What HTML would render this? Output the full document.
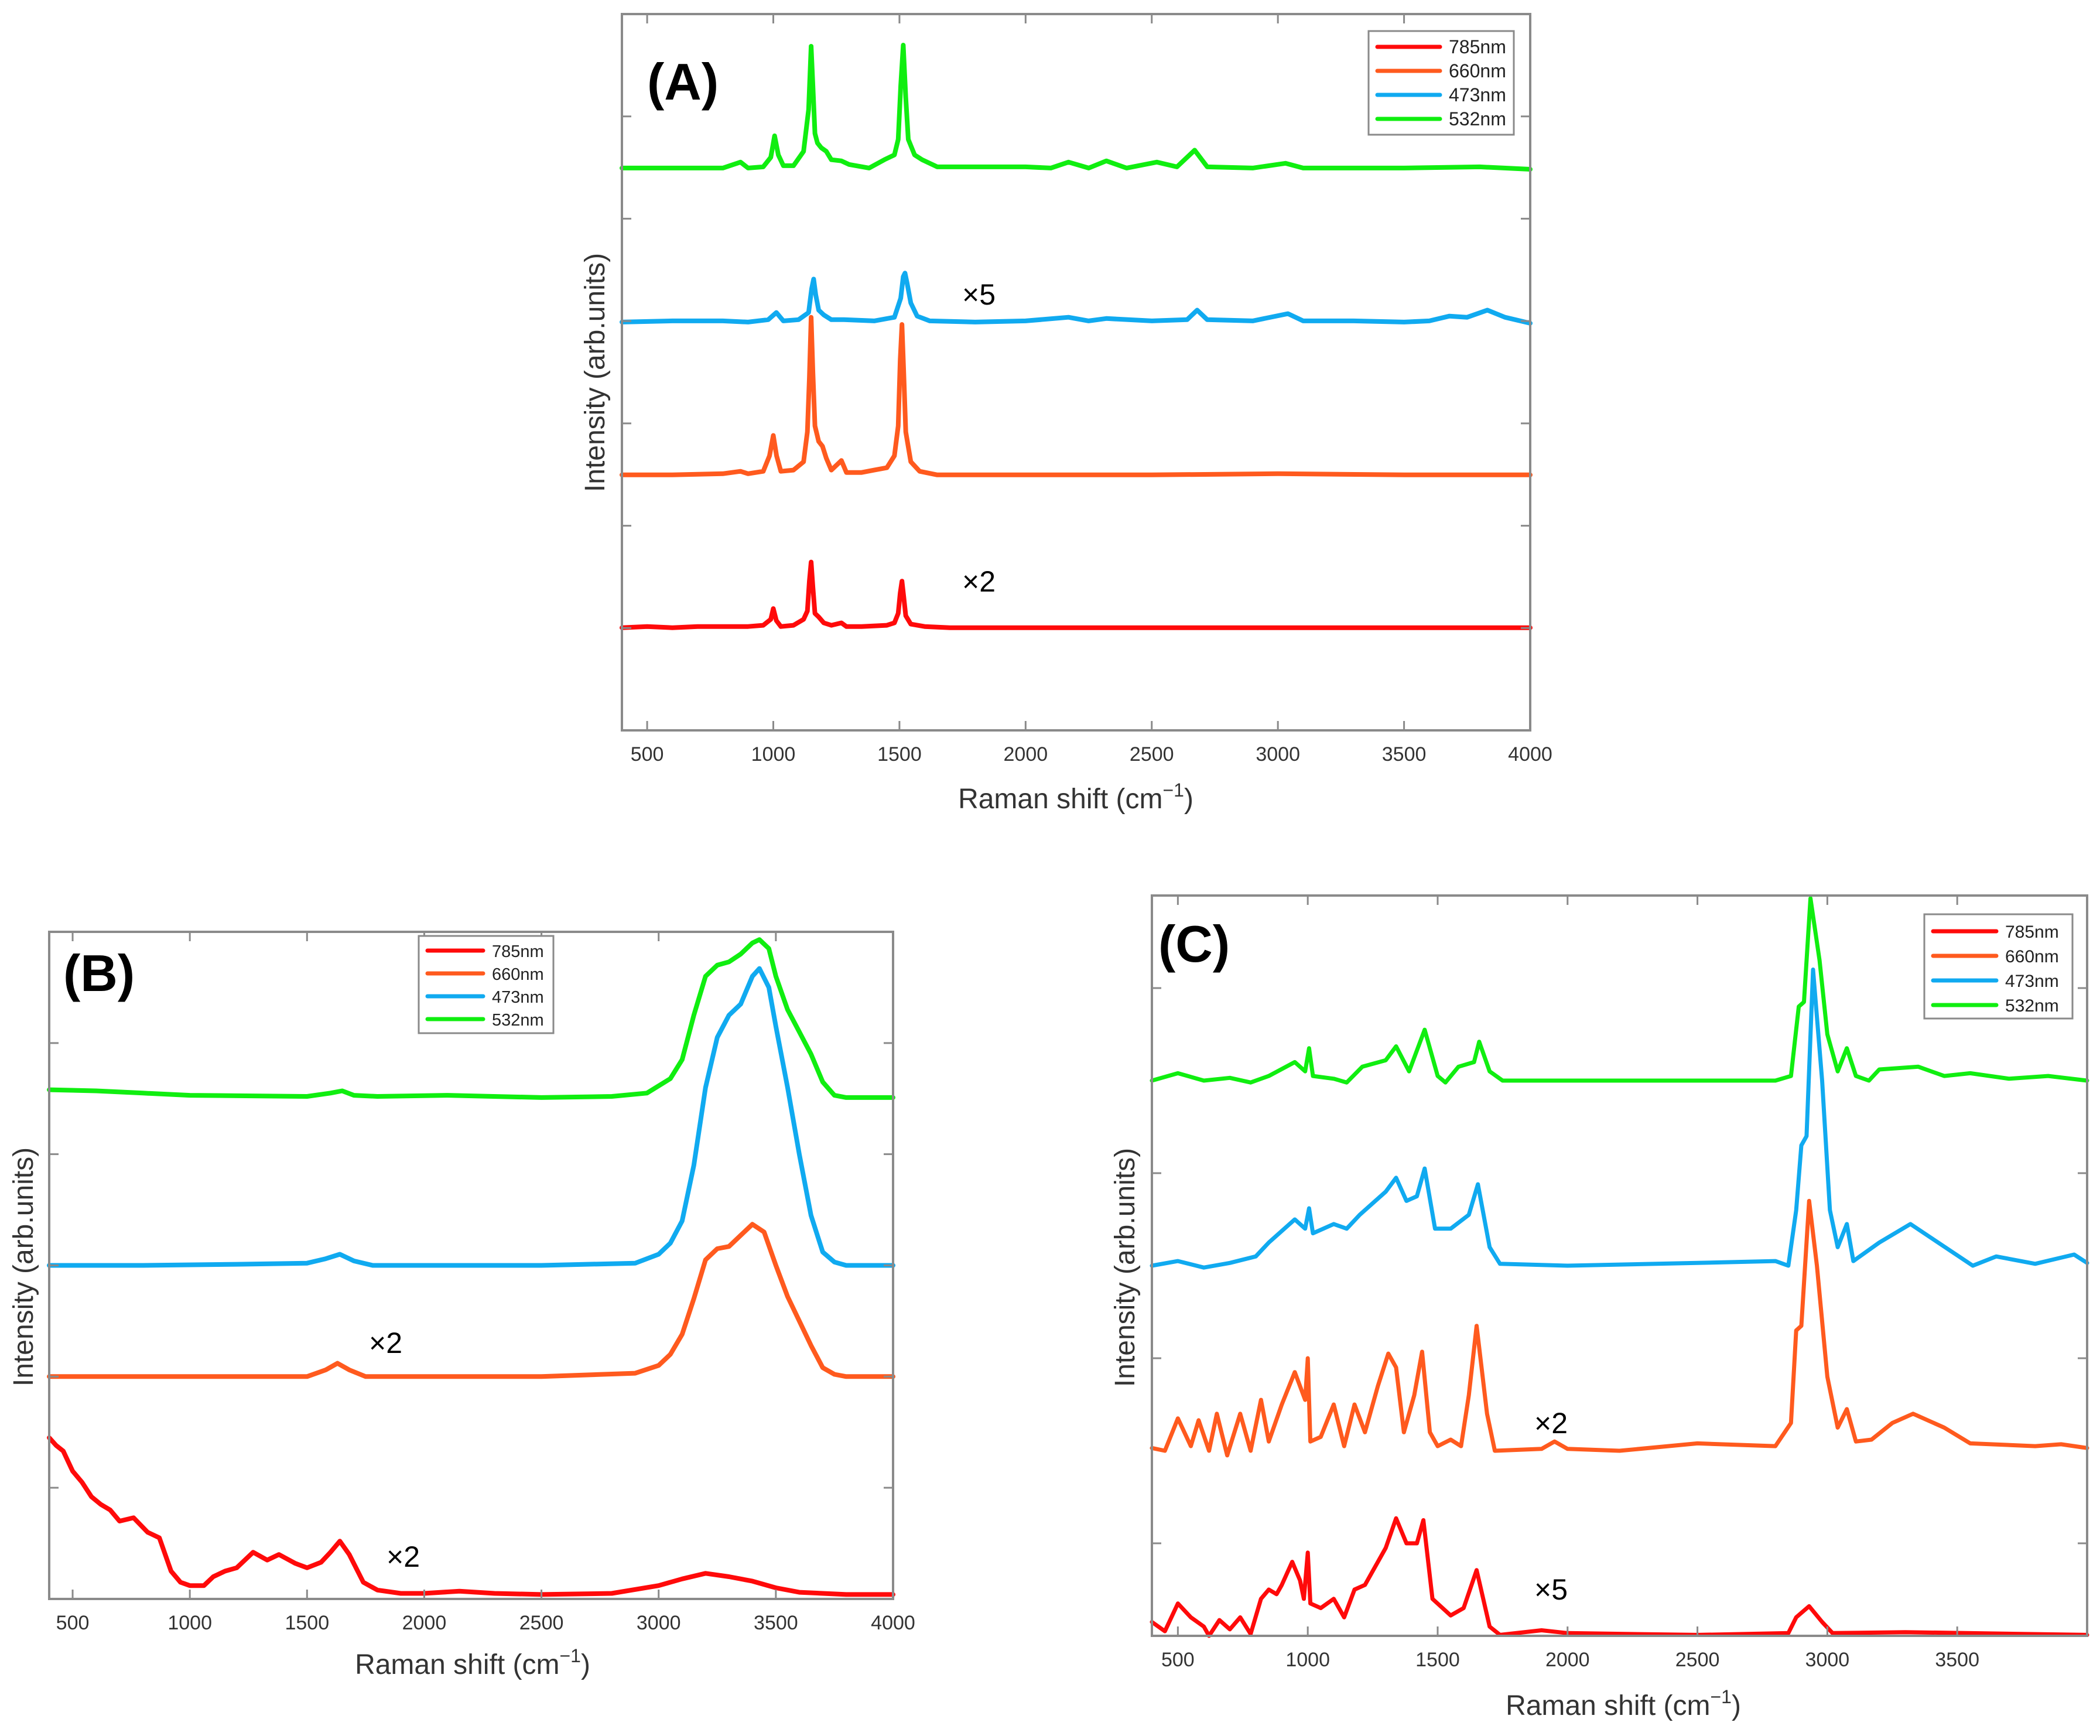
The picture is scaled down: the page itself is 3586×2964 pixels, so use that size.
<!DOCTYPE html>
<html><head><meta charset="utf-8"><style>
html,body{margin:0;padding:0;background:#fff;}
svg{display:block;font-family:"Liberation Sans",Arial,sans-serif;}
</style></head><body>
<svg id="fig" xmlns="http://www.w3.org/2000/svg" width="3586" height="2964" viewBox="0 0 3586 2964">
<rect x="0" y="0" width="3586" height="2964" fill="#fff"/>
</svg>
<script>
// ===== Panel A data =====
const aRedX = [400,500,600,700,800,900,960,990,1000,1012,1030,1080,1120,1135,1143,1150,1157,1165,1180,1200,1230,1270,1290,1350,1450,1480,1495,1503,1510,1517,1525,1545,1600,1700,2000,2500,3000,3500,4000];
const aRedY = [0.86,0.87,0.86,0.87,0.87,0.87,0.88,0.93,1.02,0.92,0.87,0.88,0.93,1.0,1.25,1.41,1.2,0.98,0.95,0.9,0.88,0.9,0.87,0.87,0.88,0.9,0.98,1.15,1.25,1.12,0.96,0.89,0.87,0.86,0.86,0.86,0.86,0.86,0.86];
const aOrgX = [400,600,800,870,900,960,985,1000,1013,1030,1080,1120,1135,1143,1150,1157,1165,1180,1195,1210,1230,1270,1290,1350,1400,1450,1480,1495,1503,1510,1517,1525,1545,1580,1650,2000,2500,3000,3500,4000];
const aOrgY = [2.14,2.14,2.15,2.17,2.15,2.17,2.3,2.47,2.3,2.17,2.18,2.25,2.5,2.95,3.46,3.0,2.55,2.42,2.38,2.28,2.18,2.26,2.16,2.16,2.18,2.2,2.3,2.55,3.1,3.40,3.0,2.5,2.25,2.17,2.14,2.14,2.14,2.15,2.14,2.14];
const aBluX = [400,600,800,900,980,1012,1040,1100,1140,1152,1160,1168,1180,1200,1230,1280,1400,1480,1505,1515,1522,1530,1545,1570,1620,1800,2000,2170,2250,2320,2500,2640,2680,2720,2900,3040,3100,3300,3500,3600,3680,3750,3830,3900,4000];
const aBluY = [3.42,3.43,3.43,3.42,3.44,3.5,3.43,3.44,3.5,3.7,3.78,3.65,3.52,3.48,3.44,3.44,3.43,3.46,3.62,3.8,3.83,3.75,3.58,3.47,3.43,3.42,3.43,3.46,3.43,3.45,3.43,3.44,3.52,3.44,3.43,3.49,3.43,3.43,3.42,3.43,3.47,3.46,3.52,3.46,3.41];
const aGrnX = [400,600,800,870,900,960,990,1005,1020,1040,1080,1120,1140,1150,1157,1165,1175,1190,1210,1230,1270,1300,1380,1440,1480,1495,1505,1515,1525,1535,1560,1590,1650,1800,2000,2100,2170,2250,2320,2400,2520,2600,2670,2720,2900,3030,3100,3500,3800,4000];
const aGrnY = [4.71,4.71,4.71,4.76,4.71,4.72,4.8,4.98,4.82,4.73,4.73,4.85,5.2,5.73,5.4,5.0,4.92,4.88,4.85,4.78,4.77,4.74,4.71,4.78,4.82,4.95,5.4,5.74,5.3,4.95,4.82,4.78,4.72,4.72,4.72,4.71,4.76,4.71,4.77,4.71,4.76,4.72,4.86,4.72,4.71,4.75,4.71,4.71,4.72,4.7];
const aTicks = [500,1000,1500,2000,2500,3000,3500,4000];
const aYTicks = [6/7,12/7,18/7,24/7,30/7,36/7];

// ===== Panel B data =====
const bRedX = [400,430,460,500,540,580,620,660,700,760,820,870,920,960,1000,1060,1100,1150,1200,1270,1330,1380,1450,1500,1560,1600,1640,1680,1740,1800,1900,2000,2150,2300,2500,2800,3000,3100,3200,3300,3400,3500,3600,3800,4000];
const bRedY = [1.45,1.38,1.33,1.15,1.05,0.92,0.85,0.8,0.7,0.73,0.6,0.55,0.25,0.15,0.12,0.12,0.2,0.25,0.28,0.42,0.35,0.4,0.32,0.28,0.33,0.42,0.52,0.4,0.15,0.08,0.05,0.05,0.07,0.05,0.04,0.05,0.12,0.18,0.23,0.2,0.16,0.1,0.06,0.04,0.04];
const bOrgX = [400,800,1200,1500,1580,1630,1680,1750,2000,2500,2900,3000,3050,3100,3150,3200,3250,3300,3350,3400,3450,3500,3550,3600,3650,3700,3750,3800,4000];
const bOrgY = [2.0,2.0,2.0,2.0,2.06,2.12,2.06,2.0,2.0,2.0,2.03,2.1,2.2,2.38,2.7,3.05,3.15,3.17,3.27,3.37,3.3,3.0,2.72,2.5,2.28,2.08,2.02,2.0,2.0];
const bBluX = [400,800,1200,1500,1580,1640,1700,1780,2000,2500,2900,3000,3050,3100,3150,3200,3250,3300,3350,3400,3430,3470,3500,3550,3600,3650,3700,3750,3800,4000];
const bBluY = [3.0,3.0,3.01,3.02,3.06,3.1,3.04,3.0,3.0,3.0,3.02,3.1,3.2,3.4,3.9,4.6,5.05,5.25,5.35,5.6,5.67,5.5,5.15,4.6,4.0,3.45,3.12,3.03,3.0,3.0];
const bGrnX = [400,600,800,1000,1500,1600,1650,1700,1800,2100,2500,2800,2950,3050,3100,3150,3200,3250,3300,3350,3400,3430,3470,3500,3550,3600,3650,3700,3750,3800,4000];
const bGrnY = [4.58,4.57,4.55,4.53,4.52,4.55,4.57,4.53,4.52,4.53,4.51,4.52,4.55,4.68,4.85,5.25,5.6,5.7,5.73,5.8,5.9,5.93,5.85,5.6,5.3,5.1,4.9,4.65,4.53,4.51,4.51];
const bTicks = [500,1000,1500,2000,2500,3000,3500,4000];
const bYTicks = [1,2,3,4,5];

// ===== Panel C data =====
const cRedX = [400,450,500,550,600,620,660,700,740,780,820,850,880,900,940,970,985,1000,1010,1050,1100,1140,1180,1220,1250,1300,1340,1380,1420,1445,1480,1550,1600,1650,1700,1740,1900,2000,2500,2850,2880,2930,2980,3020,3300,4000];
const cRedY = [0.15,0.05,0.35,0.2,0.1,0.0,0.17,0.07,0.2,0.02,0.4,0.5,0.45,0.55,0.8,0.6,0.4,0.9,0.35,0.3,0.4,0.2,0.5,0.55,0.7,0.95,1.27,1.0,1.0,1.25,0.4,0.22,0.3,0.71,0.1,0.01,0.06,0.03,0.01,0.03,0.2,0.32,0.15,0.03,0.04,0.01];
const cOrgX = [400,450,500,550,580,620,650,690,740,780,820,850,900,950,990,1000,1010,1050,1100,1140,1180,1220,1270,1310,1340,1370,1410,1440,1470,1500,1550,1590,1620,1650,1690,1720,1900,1950,2000,2200,2500,2800,2860,2880,2900,2930,2960,3000,3040,3075,3110,3170,3250,3330,3450,3550,3800,3900,4000];
const cOrgY = [2.03,2.0,2.35,2.05,2.33,2.0,2.4,1.95,2.4,2.0,2.55,2.1,2.5,2.85,2.55,3.0,2.1,2.15,2.5,2.05,2.5,2.2,2.7,3.05,2.9,2.2,2.6,3.07,2.2,2.05,2.12,2.05,2.6,3.35,2.4,2.0,2.02,2.1,2.02,2.0,2.08,2.05,2.3,3.3,3.35,4.7,4.0,2.8,2.25,2.45,2.1,2.12,2.3,2.4,2.25,2.08,2.05,2.07,2.03];
const cBluX = [400,500,600,700,800,850,950,990,1005,1020,1100,1150,1200,1300,1340,1380,1420,1450,1490,1550,1620,1655,1700,1740,2000,2500,2800,2850,2880,2900,2920,2945,2980,3010,3040,3075,3100,3200,3320,3400,3560,3650,3800,3950,4000];
const cBluY = [4.0,4.05,3.98,4.03,4.1,4.25,4.5,4.4,4.62,4.35,4.45,4.4,4.55,4.8,4.95,4.7,4.75,5.05,4.4,4.4,4.55,4.88,4.2,4.02,4.0,4.03,4.05,4.0,4.6,5.3,5.4,7.2,6.0,4.6,4.2,4.45,4.05,4.25,4.45,4.3,4.0,4.1,4.02,4.12,4.03];
const cGrnX = [400,500,600,700,780,850,950,990,1005,1020,1100,1150,1210,1300,1340,1390,1450,1500,1530,1580,1640,1660,1700,1750,2000,2800,2860,2890,2910,2935,2970,3000,3040,3075,3110,3160,3200,3350,3450,3550,3700,3850,4000];
const cGrnY = [6.0,6.08,6.0,6.03,5.98,6.05,6.2,6.1,6.35,6.05,6.02,5.98,6.15,6.22,6.37,6.1,6.55,6.05,5.98,6.15,6.2,6.42,6.1,6.0,6.0,6.0,6.05,6.8,6.85,7.97,7.3,6.5,6.1,6.35,6.05,6.0,6.12,6.15,6.05,6.08,6.02,6.05,6.0];
const cTicks = [500,1000,1500,2000,2500,3000,3500];
const cYTicks = [1,3,5,7];

const legendLabels = ['785nm','660nm','473nm','532nm'];
const COLORS = ['#ff0a0a','#ff5a1e','#10aaf0','#10ee10'];
const NS = 'http://www.w3.org/2000/svg';
const svg = document.getElementById('fig');

function mk(tag, attrs, parent){
  const e = document.createElementNS(NS, tag);
  for (const k in attrs) e.setAttribute(k, attrs[k]);
  (parent||svg).appendChild(e);
  return e;
}

function panel(p){
  const g = mk('g', {});
  
  
  const sx = v => p.L + (v - 400) / 3600 * (p.R - p.L);
  const sy = v => p.B - (v - p.ymin) / (p.ymax - p.ymin) * (p.B - p.T);
  p.series.forEach((s, i) => {
    let d = '';
    s[0].forEach((xv, j) => { d += (j ? 'L' : 'M') + sx(xv).toFixed(1) + ' ' + sy(s[1][j]).toFixed(1); });
    const path = mk('path', {d: d, fill: 'none', stroke: COLORS[i], 'stroke-width': p.lw, 'stroke-linejoin': 'round', 'stroke-linecap': 'round'}, g);
    
    
  });
  const fr = mk('rect', {x: p.L, y: p.T, width: p.R - p.L, height: p.B - p.T, fill: 'none', stroke: '#8a8a8a', 'stroke-width': 4}, g);
  
  
  p.xticks.forEach(t => {
    const x = sx(t);
    const tk = mk('path', {d: `M${x} ${p.B}V${p.B-16}M${x} ${p.T}V${p.T+16}`, stroke: '#8a8a8a', 'stroke-width': 3}, g);
    
    
    const lb = mk('text', {x: x, y: p.B + 52, 'text-anchor': 'middle', 'font-size': 34, fill: '#333'}, g);
    lb.textContent = t;
    
    
  });
  p.yticks.forEach(t => {
    const y = sy(t);
    const tk = mk('path', {d: `M${p.L} ${y}H${p.L+16}M${p.R} ${y}H${p.R-16}`, stroke: '#8a8a8a', 'stroke-width': 3}, g);
    
    
  });
  const xt = mk('text', {x: p.xtx, y: p.xty, 'text-anchor': 'middle', 'font-size': 48, fill: '#333'}, g);
  xt.innerHTML = 'Raman shift (cm<tspan dy="-20" font-size="32">−1</tspan><tspan dy="20">)</tspan>';
  
  
  const yt = mk('text', {x: 0, y: 0, transform: `translate(${p.ytx},${p.yty}) rotate(-90)`, 'text-anchor': 'middle', 'font-size': 48, fill: '#333'}, g);
  yt.textContent = 'Intensity (arb.units)';
  
  
  const pl = mk('text', {x: p.lab[0], y: p.lab[1], 'font-size': 88, 'font-weight': 'bold', fill: '#000'}, g);
  pl.textContent = p.label;
  
  
  p.mults.forEach(m => {
    const t = mk('text', {x: m[0], y: m[1], 'font-size': 50, fill: '#000'}, g);
    t.textContent = m[2];
    
    
  });
  const lg = p.leg;
  const lgg = mk('g', {}, g);
  
  
  mk('rect', {x: lg.x, y: lg.y, width: lg.w, height: lg.h, fill: '#fff', stroke: '#8a8a8a', 'stroke-width': 3}, lgg);
  legendLabels.forEach((lab, i) => {
    const y = lg.y + lg.y0 + i * lg.dy;
    const e = mk('g', {}, lgg);
    
    
    mk('line', {x1: lg.x + 15, x2: lg.x + 15 + lg.ll, y1: y, y2: y, stroke: COLORS[i], 'stroke-width': 7, 'stroke-linecap': 'round'}, e);
    const t = mk('text', {x: lg.x + 30 + lg.ll, y: y + 11, 'font-size': lg.fs, fill: '#222'}, e);
    t.textContent = lab;
  });
}

panel({name: 'panel-a', L: 1062, R: 2613, T: 24, B: 1247, ymin: 0, ymax: 6, lw: 8,
  series: [[aRedX, aRedY], [aOrgX, aOrgY], [aBluX, aBluY], [aGrnX, aGrnY]],
  xticks: aTicks, yticks: aYTicks, xtx: 1837, xty: 1380, ytx: 1032, yty: 636,
  label: '(A)', lab: [1105, 170], mults: [[1643, 520, '×5'], [1643, 1010, '×2']],
  leg: {x: 2337, y: 53, w: 248, h: 177, y0: 27, dy: 41, ll: 107, fs: 32}});

panel({name: 'panel-b', L: 84, R: 1525, T: 1591, B: 2730, ymin: 0, ymax: 6, lw: 8,
  series: [[bRedX, bRedY], [bOrgX, bOrgY], [bBluX, bBluY], [bGrnX, bGrnY]],
  xticks: bTicks, yticks: bYTicks, xtx: 807, xty: 2858, ytx: 56, yty: 2163,
  label: '(B)', lab: [108, 1692], mults: [[630, 2310, '×2'], [660, 2675, '×2']],
  leg: {x: 715, y: 1598, w: 230, h: 166, y0: 25, dy: 39, ll: 95, fs: 29}});

panel({name: 'panel-c', L: 1967, R: 3564, T: 1529, B: 2793, ymin: 0, ymax: 8, lw: 7,
  series: [[cRedX, cRedY], [cOrgX, cOrgY], [cBluX, cBluY], [cGrnX, cGrnY]],
  xticks: cTicks, yticks: cYTicks, xtx: 2772, xty: 2928, ytx: 1937, yty: 2164,
  label: '(C)', lab: [1978, 1642], mults: [[2620, 2447, '×2'], [2620, 2731, '×5']],
  leg: {x: 3286, y: 1561, w: 253, h: 178, y0: 29, dy: 42, ll: 108, fs: 30}});
</script>
</body></html>
